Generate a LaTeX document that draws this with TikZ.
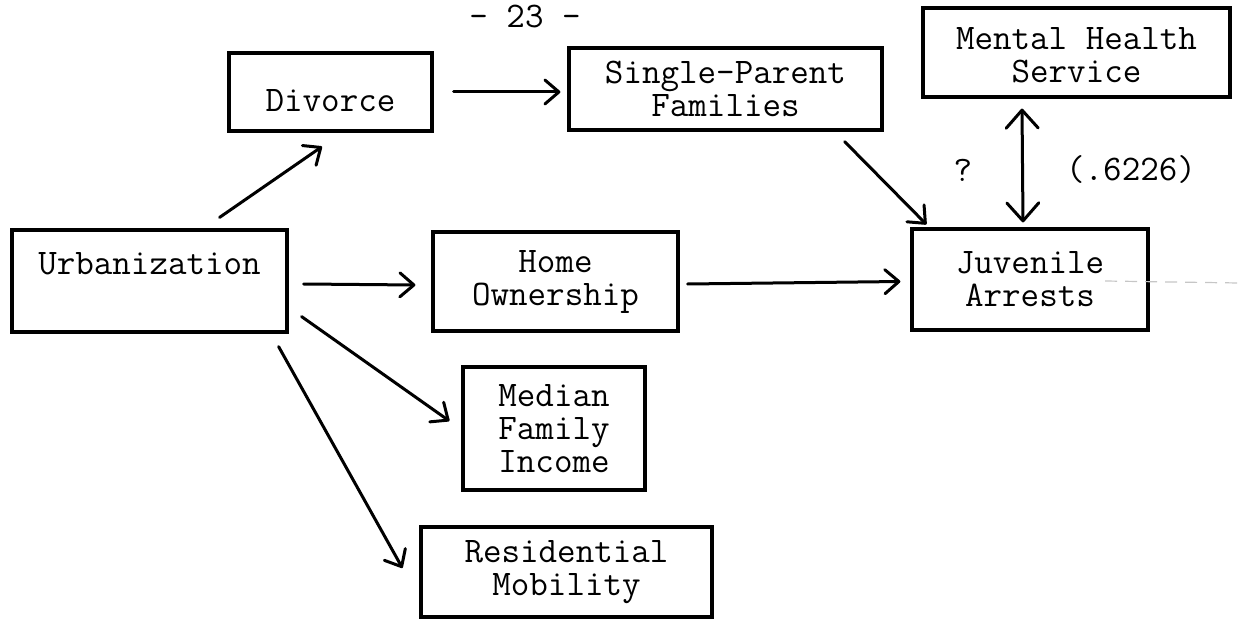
\documentclass[tikz,border=0pt]{standalone}
\usetikzlibrary{arrows.meta,calc}
\begin{document}
\begin{tikzpicture}[x=0.5bp,y=-0.5bp,
  box/.style={draw, line width=1.6bp, inner sep=0pt, align=center,
    font=\fontsize{18bp}{16.5bp}\selectfont\ttfamily},
  lbl/.style={inner sep=0pt, font=\fontsize{18bp}{16.5bp}\selectfont\ttfamily},
  arr/.style={line width=1.5bp, line cap=round,
    -{Straight Barb[length=7bp,width=12bp,line cap=round,line join=round]}},
  darr/.style={line width=1.5bp, line cap=round,
    {Straight Barb[length=9bp,width=16bp,line cap=round,line join=round]}-{Straight Barb[length=9bp,width=16bp,line cap=round,line join=round]}},
  faint/.style={gray!45, line width=0.6bp, dash pattern=on 6bp off 4bp}
  ]
\useasboundingbox (0,0) rectangle (1239,620);

% boxes
\node[box, minimum width=137.5bp, minimum height=51bp, text height=10bp, text depth=17bp] (urb) at (149.5,281) {Urbanization};
\node[box, minimum width=101.5bp, minimum height=39bp, text height=22bp, text depth=2bp] (div) at (330.5,92) {Divorce};
\node[box, minimum width=156.5bp, minimum height=41bp] (spf) at (725.5,89) {Single-Parent\\Families};
\node[box, minimum width=153.5bp, minimum height=44.5bp, text height=24bp, text depth=8.5bp] (mhs) at (1076.5,52.5) {\begin{tabular}{@{}c@{}}Mental Health\\Service\end{tabular}};
\node[box, minimum width=122.5bp, minimum height=49.5bp] (home) at (555.5,281.5) {Home\\Ownership};
\node[box, minimum width=118bp, minimum height=50.5bp, text height=23bp, text depth=10bp] (juv) at (1030,279.5) {\begin{tabular}{@{}c@{}}Juvenile\\Arrests\end{tabular}};
\node[box, minimum width=91bp, minimum height=61.5bp] (mfi) at (554,428.5) {Median\\Family\\Income};
\node[box, minimum width=145.5bp, minimum height=45bp] (res) at (566.5,572) {Residential\\Mobility};

% labels
\node[lbl] (q) at (963,170) {?};
\node[lbl] (r) at (1131,170) {(.6226)};
\node[lbl, anchor=north] (pg) at (525,5) {- 23 -};

% arrows
\draw[arr] ($(urb.north east)+(-69,-11)$) -- ($(div.south)+(-8.5,14)$);
\draw[arr] ($(div.east)+(20,0)$) -- ($(spf.west)+(-7,3)$);
\draw[arr] ($(urb.east)+(15,3)$) -- ($(home.west)+(-16,3.5)$);
\draw[arr] ($(home.east)+(8,2.5)$) -- ($(juv.west)+(-10,2)$);
\draw[arr] ($(spf.south east)+(-39,10)$) -- ($(juv.north west)+(16,-3)$);
\draw[darr] ($(mhs.south)+(-54.5,10)$) -- ($(juv.north)+(-7,-5)$);
\draw[arr] ($(urb.south east)+(13,-17)$) -- ($(mfi.west)+(-12,-7.5)$);
\draw[arr] ($(urb.south east)+(-10,13)$) -- ($(res.west)+(-17,-4)$);

% faint scan line
\coordinate (d1) at (1105,281);
\coordinate (d2) at (1239,283);
\draw[faint] (d1) -- (d2);
\end{tikzpicture}
\end{document}
